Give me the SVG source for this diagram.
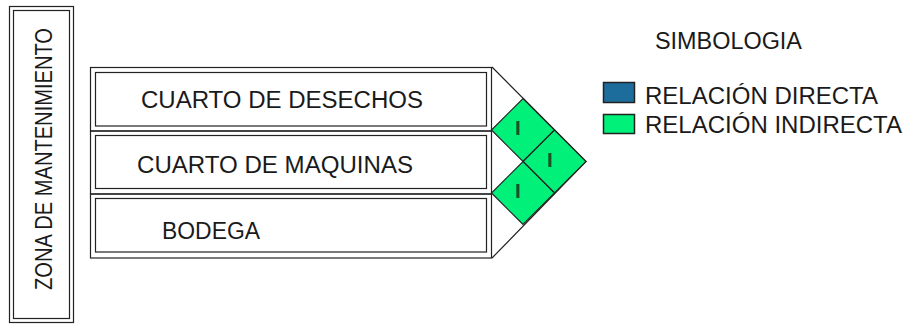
<svg xmlns="http://www.w3.org/2000/svg" width="909" height="324" viewBox="0 0 909 324">
<style>
.ln{fill:none;stroke:#222;stroke-width:1.2}
.t{font-family:"Liberation Sans",Arial,sans-serif;font-size:23px;fill:#1a1a1a}
.dm{fill:#00F07A;stroke:#222;stroke-width:1.2}
.i{font-family:"Liberation Sans",Arial,sans-serif;font-size:21px;font-weight:bold;fill:#1d4f30;text-anchor:middle}
</style>
<rect width="909" height="324" fill="#fff"/>
<g id="zona">
<rect class="ln" x="9.5" y="6.5" width="64" height="316"/>
<rect class="ln" x="13.5" y="10.5" width="56" height="308"/>
<text class="t" transform="translate(52,290) rotate(-90)" textLength="262" lengthAdjust="spacingAndGlyphs">ZONA DE MANTENIMIENTO</text>
</g>
<g id="connectors">
<polyline class="ln" points="492,67 586,161.5 492,258"/>
</g>
<g id="desechos">
<rect class="ln" x="90.5" y="67.5" width="401" height="63.5"/>
<rect class="ln" x="95.5" y="72.5" width="391" height="53.5"/>
<text class="t" x="141" y="108" textLength="282" lengthAdjust="spacingAndGlyphs">CUARTO DE DESECHOS</text>
</g>
<g id="maquinas">
<rect class="ln" x="90.5" y="131" width="401" height="63"/>
<rect class="ln" x="95.5" y="135.5" width="391" height="53"/>
<text class="t" x="137" y="173" textLength="276" lengthAdjust="spacingAndGlyphs">CUARTO DE MAQUINAS</text>
</g>
<g id="bodega">
<rect class="ln" x="90.5" y="194" width="401" height="64"/>
<rect class="ln" x="95.5" y="198.5" width="391" height="53.5"/>
<text class="t" x="162" y="239" textLength="98" lengthAdjust="spacingAndGlyphs">BODEGA</text>
</g>
<g id="rel-desechos-maquinas">
<polygon class="dm" points="523,98.5 554.5,130 523,161.5 491.5,130"/>
<text class="i" x="518" y="135">I</text>
</g>
<g id="rel-desechos-bodega">
<polygon class="dm" points="554.5,130 586,161.5 554.5,193 523,161.5"/>
<text class="i" x="550" y="167">I</text>
</g>
<g id="rel-maquinas-bodega">
<polygon class="dm" points="523,161.5 554.5,193 523,224.5 491.5,193"/>
<text class="i" x="518" y="198">I</text>
</g>
<g id="simbologia">
<text class="t" x="655" y="49" textLength="147" lengthAdjust="spacingAndGlyphs">SIMBOLOGIA</text>
<rect x="603.5" y="82.5" width="31" height="20" fill="#1C6D9C" stroke="#222" stroke-width="1.5"/>
<text class="t" x="645" y="104" textLength="233" lengthAdjust="spacingAndGlyphs">RELACIÓN DIRECTA</text>
<rect x="603.5" y="114.5" width="31" height="19" fill="#00F07A" stroke="#222" stroke-width="1.5"/>
<text class="t" x="645" y="133" textLength="257" lengthAdjust="spacingAndGlyphs">RELACIÓN INDIRECTA</text>
</g>
</svg>
